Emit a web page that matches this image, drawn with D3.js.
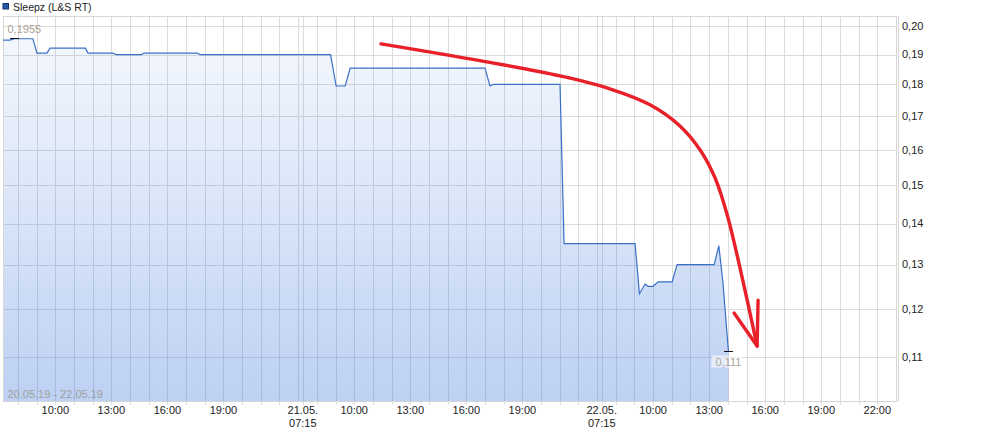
<!DOCTYPE html>
<html><head><meta charset="utf-8">
<script src="https://cdn.jsdelivr.net/npm/d3@7"></script>
<style>
body{margin:0;background:#fff}
svg{display:block;font-family:"Liberation Sans",Arial,sans-serif}
</style>
</head><body>
<svg id="c" width="1008" height="436"></svg>
<script>
// ---------- data ----------
const title = "Sleepz (L&S RT)";
const dateRange = "20.05.19 - 22.05.19";
const days = ["20.05.", "21.05.", "22.05."];
const sessionOpenHour = 7, sessionHours = 16; // 07:00 - 23:00
const times = [
  "20.05. 07:12","20.05. 07:34","20.05. 07:49","20.05. 08:48","20.05. 09:01","20.05. 09:33",
  "20.05. 09:43","20.05. 11:37","20.05. 11:45","20.05. 13:05","20.05. 13:15","20.05. 14:37",
  "20.05. 14:45","20.05. 17:35","20.05. 17:45",
  "21.05. 08:44","21.05. 09:02","21.05. 09:31","21.05. 09:47","21.05. 17:00","21.05. 17:16",
  "21.05. 17:26","21.05. 21:01","21.05. 21:14",
  "22.05. 09:02","22.05. 09:16","22.05. 09:34","22.05. 09:44","22.05. 10:00","22.05. 10:16",
  "22.05. 11:01","22.05. 11:17","22.05. 13:16","22.05. 13:31","22.05. 13:44","22.05. 14:02"
];
const prices = [
  0.1950,0.1950,0.1955,0.1955,0.1905,0.1905,
  0.1922,0.1922,0.1905,0.1905,0.1900,0.1900,
  0.1905,0.1905,0.1900,
  0.1900,0.1795,0.1795,0.1854,0.1854,0.1795,
  0.1800,0.1800,0.1350,
  0.1350,0.1233,0.1255,0.1250,0.1250,0.1260,
  0.1260,0.1300,0.1300,0.1345,0.1260,0.1110
];
const yTickValues = [0.11,0.12,0.13,0.14,0.15,0.16,0.17,0.18,0.19,0.20];
const hourLabels = [10, 13, 16, 19, 22];
const dayOpenTimes = ["21.05. 07:15", "22.05. 07:15"];
const axisStart = "20.05. 07:12", axisEnd = "22.05. 23:00";
const yDomain = [0.1016, 0.2037];
// hand-drawn red arrow annotation (in chart coordinates)
const arrowCurveTimes = ["21.05. 11:26","21.05. 16:44","21.05. 21:01","22.05. 07:41","22.05. 09:50",
  "22.05. 11:26","22.05. 12:31","22.05. 13:19","22.05. 13:58","22.05. 14:39","22.05. 15:34"];
const arrowCurveValues = [0.1937,0.1879,0.1828,0.1786,0.1735,0.1670,0.1599,0.1520,0.1422,0.1292,0.1122];
const arrowHeadTimes = ["22.05. 14:20","22.05. 15:34","22.05. 15:37"];
const arrowHeadValues = [0.1191,0.1122,0.1219];

// ---------- helpers ----------
function sessionIndex(s){
  const [d, hm] = s.split(" ");
  const di = days.indexOf(d);
  const [h, m] = hm.split(":").map(Number);
  return di * sessionHours + h + m / 60 - sessionOpenHour;
}
const fmtY = v => d3.format(".2f")(v).replace(".", ",");
const fmtV = v => String(+v.toFixed(4)).replace(".", ",");

const L = 3, R = 896, T = 16, B = 401;
const svg = d3.select("#c");
const x = d3.scaleLinear().domain([sessionIndex(axisStart), sessionIndex(axisEnd)]).range([L, R]);
const y = d3.scaleLog().domain(yDomain).range([B, T]);

const data = times.map((t, i) => ({t: sessionIndex(t), v: prices[i]}));

// gradient
const defs = svg.append("defs");
const g = defs.append("linearGradient").attr("id", "grad")
  .attr("gradientUnits", "userSpaceOnUse").attr("x1", 0).attr("x2", 0).attr("y1", T).attr("y2", B);
g.append("stop").attr("offset", 0).attr("stop-color", "#2a6ad8").attr("stop-opacity", 0.04);
g.append("stop").attr("offset", 1).attr("stop-color", "#2a6ad8").attr("stop-opacity", 0.31);

const gridColor = "#dcdcdc";
// horizontal grid
svg.append("g").selectAll("line").data(yTickValues).join("line")
  .attr("x1", L).attr("x2", R).attr("y1", d => Math.round(y(d)) + 0.5).attr("y2", d => Math.round(y(d)) + 0.5)
  .attr("stroke", gridColor);

// vertical grid: every hour + day opens
const hourLines = d3.range(1, sessionHours * days.length + 1).filter(t => x(t) < R - 1);
const dayOpenIdx = dayOpenTimes.map(sessionIndex);
svg.append("g").selectAll("line").data(hourLines.concat(dayOpenIdx)).join("line")
  .attr("x1", d => Math.round(x(d)) + 0.5).attr("x2", d => Math.round(x(d)) + 0.5)
  .attr("y1", T).attr("y2", d => (d % sessionHours === 0) ? B : B + 4)
  .attr("stroke", gridColor);

// area + line
svg.append("path").datum(data)
  .attr("d", d3.area().x(d => x(d.t)).y0(B).y1(d => y(d.v)))
  .attr("fill", "url(#grad)");

// frame
svg.append("rect").attr("x", L + 0.5).attr("y", T + 0.5).attr("width", R - L).attr("height", B - T)
  .attr("fill", "none").attr("stroke", "#d6d6d6");
svg.append("line").attr("x1", R + 2.5).attr("x2", R + 2.5).attr("y1", T).attr("y2", B + 1)
  .attr("stroke", "#d6d6d6");

svg.append("path").datum(data)
  .attr("d", d3.line().x(d => x(d.t)).y(d => y(d.v)))
  .attr("fill", "none").attr("stroke", "#3a70c8").attr("stroke-width", 1.2);

// y labels
svg.append("g").selectAll("text").data(yTickValues).join("text")
  .attr("x", R + 6).attr("y", d => y(d)).attr("dy", "0.35em")
  .attr("font-size", 11).attr("fill", "#222").text(fmtY);

// x labels
const dayLabelX = dayOpenIdx.map(x);
const hourTicks = [];
days.forEach((d, di) => hourLabels.forEach(h => {
  const t = di * sessionHours + h - sessionOpenHour;
  const px = x(t);
  if (px > L && px < R && dayLabelX.every(dx => Math.abs(dx - px) > 30))
    hourTicks.push({px, label: (h < 10 ? "0" : "") + h + ":00"});
}));
svg.append("g").selectAll("text").data(hourTicks).join("text")
  .attr("x", d => d.px).attr("y", 414).attr("text-anchor", "middle")
  .attr("font-size", 11).attr("fill", "#222").text(d => d.label);
const dl = svg.append("g").selectAll("text").data(dayOpenTimes).join("text")
  .attr("x", d => x(sessionIndex(d))).attr("y", 414).attr("text-anchor", "middle")
  .attr("font-size", 11).attr("fill", "#222");
dl.append("tspan").attr("x", d => x(sessionIndex(d))).text(d => d.split(" ")[0]);
dl.append("tspan").attr("x", d => x(sessionIndex(d))).attr("dy", 12.5).text(d => d.split(" ")[1]);

// date range
svg.append("text").attr("x", L + 4.5).attr("y", B - 3).attr("font-size", 11)
  .attr("fill", "#9f9f9f").text(dateRange);

// max / min markers
const maxD = data.reduce((a, b) => b.v > a.v ? b : a);
const minD = data.reduce((a, b) => b.v < a.v ? b : a);
[maxD, minD].forEach(d => {
  svg.append("line").attr("x1", x(d.t) - 4.5).attr("x2", x(d.t) + 4.5)
    .attr("y1", Math.round(y(d.v)) - 0.5).attr("y2", Math.round(y(d.v)) - 0.5)
    .attr("stroke", "#111").attr("stroke-width", 1);
});
const maxText = svg.append("text").attr("font-size", 11).attr("fill", "#ab9f93")
  .attr("y", y(maxD.v) - 5.5).text(fmtV(maxD.v));
const mw = maxText.node().getComputedTextLength();
maxText.attr("x", Math.max(L + 4.5, x(maxD.t) - mw / 2));
const minText = svg.append("text").attr("font-size", 11).attr("fill", "#aaa49c")
  .attr("x", x(minD.t)).attr("y", y(minD.v) + 13.5).attr("text-anchor", "middle").text(fmtV(minD.v));
const bb = minText.node().getBBox();
svg.insert("rect", () => minText.node())
  .attr("x", bb.x - 4).attr("y", bb.y).attr("width", bb.width + 5).attr("height", bb.height)
  .attr("fill", "#fff").attr("opacity", 0.6);

// red annotation arrow
const arrowLine = d3.line().x(d => x(sessionIndex(d[0]))).y(d => y(d[1]));
svg.append("path").datum(arrowCurveTimes.map((t, i) => [t, arrowCurveValues[i]]))
  .attr("d", arrowLine.curve(d3.curveCatmullRom.alpha(0.5)))
  .attr("fill", "none").attr("stroke", "#e8202a").attr("stroke-width", 3.4).attr("stroke-linecap", "round");
svg.append("path").datum(arrowHeadTimes.map((t, i) => [t, arrowHeadValues[i]]))
  .attr("d", d3.line().x(d => x(sessionIndex(d[0]))).y(d => y(d[1])))
  .attr("fill", "none").attr("stroke", "#e8202a").attr("stroke-width", 3.4)
  .attr("stroke-linecap", "round").attr("stroke-linejoin", "round");

// legend
svg.append("rect").attr("x", 3).attr("y", 3.5).attr("width", 5.5).attr("height", 5.5)
  .attr("fill", "#2455a8").attr("stroke", "#12356f").attr("stroke-width", 1);
svg.append("text").attr("x", 13).attr("y", 10.5).attr("font-size", 10.5).attr("fill", "#222").text(title);
</script>
</body></html>
